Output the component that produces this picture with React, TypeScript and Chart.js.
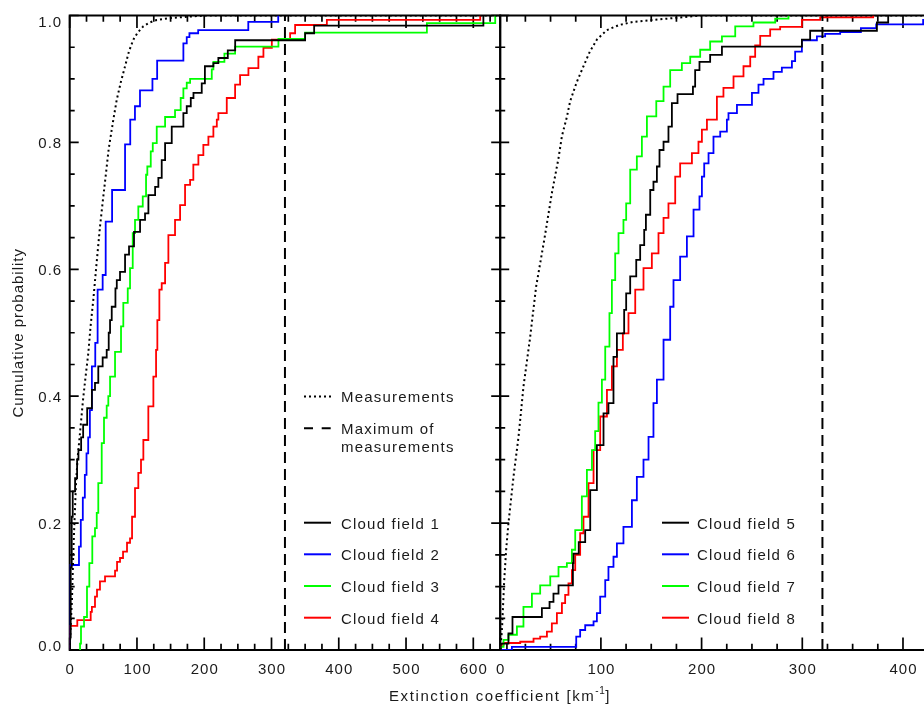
import React, { useEffect, useRef } from 'react';
import { Chart, registerables } from 'chart.js';

Chart.register(...registerables);

type Pt = [number, number];

// ---------------- data ----------------
const leftXRange: [number, number] = [0, 640];
const rightXRange: [number, number] = [0, 430];
const yTickValues = [0, 0.2, 0.4, 0.6, 0.8, 1.0];
const yTickLabels = ['0.0', '0.2', '0.4', '0.6', '0.8', '1.0'];
const leftXTickValues = [0, 100, 200, 300, 400, 500, 600];
const rightXTickValues = [0, 100, 200, 300, 400];
const xMinorStep = 25;
const yMinorStep = 0.05;
const maxOfMeasurements = 320;
const leftLabels = ['Cloud field 1', 'Cloud field 2', 'Cloud field 3', 'Cloud field 4'];
const rightLabels = ['Cloud field 5', 'Cloud field 6', 'Cloud field 7', 'Cloud field 8'];
const seriesColors = ['#000000', '#0000ff', '#00ff00', '#ff0000'];

const measurementsLeft: Pt[] = [
  [0, 0], [1.5, 0.04], [3.4, 0.079], [5, 0.14], [6.4, 0.184], [9.4, 0.263], [12, 0.305], [15.3, 0.342],
  [19.8, 0.394], [23.5, 0.43], [27.7, 0.468], [31, 0.51], [35.1, 0.552], [40, 0.61], [45, 0.667], [50, 0.715],
  [54, 0.752], [58, 0.79], [64.9, 0.836], [69.9, 0.867], [76, 0.895], [82.3, 0.92], [88, 0.943], [94.6, 0.962],
  [101, 0.973], [109.5, 0.983], [119, 0.989], [129.4, 0.993], [150, 0.996], [174, 0.998], [203, 1.0], [640, 1.0],
];

const cloudField1: Pt[] = [
  [0, 0], [0.5, 0.02], [1.5, 0.13], [3, 0.21], [4.5, 0.25], [8, 0.271], [11, 0.3], [13, 0.315], [17, 0.335],
  [20, 0.355], [26, 0.381], [33, 0.41], [37.6, 0.421], [42.5, 0.447], [49, 0.461], [55, 0.473], [58, 0.5],
  [60, 0.52], [62.5, 0.541], [68, 0.57], [70, 0.583], [74.8, 0.596], [82.3, 0.623], [88.2, 0.636], [95.6, 0.659],
  [104.6, 0.678], [112, 0.688], [117, 0.717], [127, 0.73], [131.8, 0.744], [136.8, 0.772], [141.8, 0.799],
  [151.7, 0.825], [169, 0.846], [174, 0.857], [180, 0.87], [184, 0.878], [196.3, 0.893], [201, 0.92],
  [213.6, 0.925], [221, 0.933], [235, 0.945], [246, 0.961], [350, 0.972], [363.4, 0.984], [615, 1.0],
];

const cloudField2: Pt[] = [
  [0, 0], [0.2, 0.134], [13.8, 0.163], [16.5, 0.205], [19.5, 0.24], [22.5, 0.276], [25, 0.31], [27.5, 0.335],
  [30, 0.378], [33, 0.447], [38, 0.484], [41.5, 0.568], [49, 0.591], [53.5, 0.675], [63, 0.725], [82.3, 0.797],
  [90, 0.836], [97, 0.857], [104.5, 0.882], [123, 0.9], [130, 0.929], [169, 0.956], [174, 0.966], [178, 0.972],
  [191, 0.977], [265.5, 0.99], [310, 1.0],
];

const cloudField3: Pt[] = [
  [15.3, 0], [15.4, 0.01], [16.8, 0.037], [21.3, 0.052], [25.7, 0.1], [29.2, 0.137], [33.6, 0.179], [37.6, 0.192],
  [40.2, 0.216], [42.5, 0.263], [47.6, 0.326], [51, 0.366], [55, 0.385], [57.4, 0.4], [60, 0.431], [67.4, 0.47],
  [76.3, 0.51], [79.7, 0.547], [86.3, 0.57], [89.7, 0.602], [93.7, 0.657], [97.1, 0.678], [102, 0.699],
  [108.6, 0.715], [113.5, 0.749], [115.4, 0.762], [120.5, 0.786], [123.5, 0.799], [129.4, 0.825], [141.8, 0.84],
  [156.6, 0.851], [165, 0.87], [169, 0.885], [174, 0.894], [179, 0.9], [211.2, 0.915], [213.6, 0.927],
  [230, 0.94], [245.9, 0.951], [310.3, 0.963], [350, 0.973], [531, 0.988], [632.6, 1.0],
];

const cloudField4: Pt[] = [
  [0, 0], [0.3, 0.038], [11.3, 0.047], [31.2, 0.06], [33, 0.068], [37.6, 0.084], [40.6, 0.095], [45, 0.108],
  [52.5, 0.116], [67.4, 0.125], [70.4, 0.139], [74.8, 0.145], [79.3, 0.155], [85.2, 0.169], [89.7, 0.176],
  [92.7, 0.21], [97.1, 0.255], [102, 0.279], [106, 0.3], [109.5, 0.331], [116.9, 0.384], [124.4, 0.431],
  [128.4, 0.473], [130.3, 0.52], [133.3, 0.568], [136.8, 0.578], [141.8, 0.61], [146.7, 0.654], [156.6, 0.678],
  [164.1, 0.701], [171.5, 0.733], [179, 0.741], [183.8, 0.765], [191.3, 0.78], [198.7, 0.796], [206.2, 0.809],
  [213.6, 0.825], [218.7, 0.836], [221, 0.846], [233.5, 0.87], [245.9, 0.891], [253.3, 0.906], [265.7, 0.917],
  [280.5, 0.935], [288, 0.949], [300.5, 0.962], [327.7, 0.972], [335.1, 0.985], [382.3, 0.993], [610.3, 1.0],
];

const measurementsRight: Pt[] = [
  [0, 0], [1.7, 0.03], [4, 0.11], [6, 0.16], [8.2, 0.2], [13.2, 0.273], [18.2, 0.336], [23.1, 0.415],
  [29.5, 0.49], [35.7, 0.573], [43.7, 0.646], [51.3, 0.72], [57.9, 0.775], [61.3, 0.81], [66.2, 0.84],
  [69.5, 0.865], [76, 0.895], [82.7, 0.92], [89, 0.943], [96, 0.962], [105.9, 0.977], [118, 0.985],
  [132.4, 0.99], [165.5, 0.995], [198.6, 1.0], [430, 1.0],
];

const cloudField5: Pt[] = [
  [0, 0], [0.5, 0.01], [8.2, 0.026], [12.2, 0.052], [41.4, 0.066], [49, 0.076], [52.9, 0.089], [57.9, 0.102],
  [72.2, 0.137], [72.8, 0.152], [78, 0.17], [84.4, 0.189], [89.4, 0.252], [96, 0.323], [102.6, 0.373],
  [107.5, 0.389], [112.5, 0.462], [115.9, 0.499], [123.1, 0.536], [125.1, 0.562], [129.1, 0.589],
  [135.1, 0.615], [139, 0.638], [143, 0.662], [144.7, 0.686], [149, 0.725], [152.2, 0.738], [155.6, 0.762],
  [158.2, 0.788], [162.2, 0.801], [167.1, 0.825], [170.5, 0.862], [176.1, 0.876], [191.4, 0.888],
  [193.6, 0.914], [197.9, 0.927], [208.5, 0.938], [220.2, 0.951], [299.6, 0.962], [307.8, 0.976],
  [374.1, 0.989], [385.3, 1.0],
];

const cloudField6: Pt[] = [
  [0, 0], [11.6, 0.005], [75.5, 0.021], [79.4, 0.0315], [84.4, 0.039], [92.7, 0.045], [96, 0.058], [99.3, 0.084],
  [104.3, 0.11], [107.5, 0.131], [112.5, 0.147], [115.9, 0.168], [122.4, 0.194], [130.8, 0.236], [135.7, 0.273],
  [142.3, 0.3], [147.3, 0.336], [152.2, 0.389], [155.6, 0.426], [162.2, 0.489], [168.8, 0.541], [172.1, 0.583],
  [178.7, 0.62], [185.4, 0.652], [192, 0.694], [197.9, 0.715], [200.3, 0.746], [202.6, 0.767], [206.9, 0.783],
  [211.8, 0.809], [218.5, 0.817], [225.1, 0.836], [226.7, 0.846], [235.1, 0.859], [250, 0.878], [256.5, 0.891],
  [261.5, 0.9], [271.4, 0.911], [279.7, 0.918], [289.7, 0.928], [292.9, 0.943], [299.6, 0.961], [314.5, 0.967],
  [322.7, 0.971], [337.6, 0.974], [358.2, 0.98], [373.4, 0.986], [420, 0.993], [445, 1.0],
];

const cloudField7: Pt[] = [
  [0, 0], [0.5, 0.005], [3.3, 0.016], [8.2, 0.024], [16.6, 0.037], [23.1, 0.068], [31.5, 0.089], [39.7, 0.102],
  [49.7, 0.116], [57.9, 0.131], [66.2, 0.137], [71.2, 0.158], [74.5, 0.189], [81.1, 0.242], [86.1, 0.284],
  [91.1, 0.315], [94.3, 0.345], [97.6, 0.39], [101, 0.426], [104.3, 0.478], [108.5, 0.531], [110.9, 0.583],
  [114.2, 0.625], [117.5, 0.657], [122.4, 0.678], [125.1, 0.704], [129.1, 0.757], [135.7, 0.778],
  [140.7, 0.809], [145.7, 0.841], [155, 0.865], [162.2, 0.888], [168.8, 0.914], [180.4, 0.925], [188.7, 0.935],
  [198.6, 0.946], [208.5, 0.959], [220.2, 0.967], [233.4, 0.983], [251.5, 0.989], [273.1, 0.995], [286.3, 1.0],
];

const cloudField8: Pt[] = [
  [0, 0], [0.5, 0.008], [3.3, 0.011], [19.9, 0.013], [33.1, 0.018], [39.7, 0.021], [46.4, 0.029], [51.3, 0.042],
  [56.3, 0.058], [61.3, 0.074], [64.5, 0.087], [67.8, 0.105], [71.2, 0.126], [74.5, 0.15], [79.4, 0.184],
  [82.7, 0.21], [87.7, 0.263], [92.7, 0.315], [99.3, 0.368], [106, 0.41], [110.9, 0.447], [115.9, 0.473],
  [121.8, 0.499], [127.4, 0.531], [134.1, 0.568], [142.3, 0.602], [150.6, 0.625], [157.2, 0.657], [162.2, 0.681],
  [167.1, 0.704], [173.8, 0.746], [178.7, 0.767], [190.4, 0.783], [196.9, 0.801], [200.3, 0.82], [205.3, 0.836],
  [215.2, 0.872], [221.7, 0.886], [231.7, 0.904], [241.6, 0.92], [248.3, 0.935], [253.2, 0.953], [258.2, 0.968],
  [268.1, 0.978], [278, 0.982], [299.6, 0.993], [317.8, 0.997], [370.4, 1.0],
];

// ---------------- styling / helpers ----------------
const FONT = '"Liberation Sans", Arial, sans-serif';
const TEXT_COLOR = '#1a1a1a';

const toXY = (pts: Pt[]) => pts.map(([x, y]) => ({ x, y }));

type PanelCfg = {
  xRange: [number, number];
  xTicks: number[];
  showY: boolean;
  showTitles: boolean;
  curves: Pt[][];
  measurements: Pt[];
  labels: string[];
  legendLineX: number;
  legendTextX: number;
  showStyleLegend: boolean;
  padding: { left: number; right: number; top: number; bottom: number };
  width: number;
};

function setSpacing(ctx: CanvasRenderingContext2D, px: number) {
  try {
    (ctx as any).letterSpacing = px + 'px';
  } catch (e) {
    /* ignore */
  }
}

function makeDecor(cfg: PanelCfg) {
  return {
    id: 'panelDecor',
    beforeDatasetsDraw(chart: any) {
      const { ctx, chartArea: a, scales } = chart;
      const xs = scales.x;
      const ys = scales.y;
      ctx.save();
      ctx.strokeStyle = '#000';
      ctx.lineWidth = 1.7;
      ctx.beginPath();
      const nx = Math.round((cfg.xRange[1] - cfg.xRange[0]) / xMinorStep);
      for (let i = 0; i <= nx; i++) {
        const v = cfg.xRange[0] + i * xMinorStep;
        const px = xs.getPixelForValue(v);
        const major = i % 4 === 0;
        const len = major ? 12.5 : 6.3;
        ctx.moveTo(px, a.bottom);
        ctx.lineTo(px, a.bottom - len);
        ctx.moveTo(px, a.top);
        ctx.lineTo(px, a.top + len);
      }
      const ny = Math.round(1 / yMinorStep);
      for (let i = 0; i <= ny; i++) {
        const v = i * yMinorStep;
        const py = ys.getPixelForValue(v);
        const major = i % 4 === 0;
        const len = major ? 9 : 5;
        ctx.moveTo(a.left, py);
        ctx.lineTo(a.left + len, py);
        ctx.moveTo(a.right, py);
        ctx.lineTo(a.right - len, py);
      }
      ctx.stroke();
      ctx.lineWidth = 2;
      ctx.strokeRect(a.left, a.top, a.right - a.left, a.bottom - a.top);
      ctx.restore();
    },
    afterDraw(chart: any) {
      const { ctx, chartArea: a, scales } = chart;
      const xs = scales.x;
      const ys = scales.y;
      ctx.save();
      ctx.fillStyle = TEXT_COLOR;
      ctx.font = `15px ${FONT}`;
      setSpacing(ctx, 1);
      ctx.textBaseline = 'alphabetic';
      // x tick labels
      ctx.textAlign = 'center';
      cfg.xTicks.forEach((v) => {
        const px = xs.getPixelForValue(v);
        ctx.fillText(String(v), px + 0.5, 674);
      });
      // y tick labels
      if (cfg.showY) {
        ctx.textAlign = 'right';
        yTickValues.forEach((v, i) => {
          const py = ys.getPixelForValue(v);
          const base = Math.min(Math.max(py + 5.6, a.top + 11.8), a.bottom + 0.7);
          ctx.fillText(yTickLabels[i], a.left - 7.5, base);
        });
      }
      // legend
      ctx.textAlign = 'left';
      setSpacing(ctx, 1.2);
      const drawSample = (y: number, color: string, dash: number[]) => {
        ctx.save();
        ctx.strokeStyle = color;
        ctx.lineWidth = 2;
        ctx.setLineDash(dash);
        ctx.beginPath();
        ctx.moveTo(cfg.legendLineX, y);
        ctx.lineTo(cfg.legendLineX + 27, y);
        ctx.stroke();
        ctx.restore();
      };
      if (cfg.showStyleLegend) {
        drawSample(396.5, '#000', [2, 3]);
        ctx.fillText('Measurements', cfg.legendTextX, 402);
        drawSample(428.3, '#000', [9, 8.7]);
        ctx.fillText('Maximum of', cfg.legendTextX, 434);
        ctx.fillText('measurements', cfg.legendTextX, 452);
      }
      const ly = [522.7, 554.3, 586, 617.7];
      cfg.labels.forEach((lab, i) => {
        drawSample(ly[i], seriesColors[i], []);
        ctx.fillText(lab, cfg.legendTextX, ly[i] + 6);
      });
      // titles
      if (cfg.showTitles) {
        const main = 'Extinction coefficient [km';
        const sup = '-1';
        const end = ']';
        ctx.font = `15px ${FONT}`;
        setSpacing(ctx, 1.6);
        const w1 = ctx.measureText(main).width;
        const w3 = ctx.measureText(end).width;
        ctx.font = `10px ${FONT}`;
        setSpacing(ctx, 0.5);
        const w2 = ctx.measureText(sup).width;
        const total = w1 + w2 + w3;
        let x0 = 500 - total / 2;
        ctx.textAlign = 'left';
        ctx.font = `15px ${FONT}`;
        setSpacing(ctx, 1.6);
        ctx.fillText(main, x0, 701);
        x0 += w1;
        ctx.font = `10px ${FONT}`;
        setSpacing(ctx, 0.5);
        ctx.fillText(sup, x0, 694);
        x0 += w2;
        ctx.font = `15px ${FONT}`;
        setSpacing(ctx, 1.6);
        ctx.fillText(end, x0, 701);
        ctx.save();
        ctx.translate(23, (a.top + a.bottom) / 2);
        ctx.rotate(-Math.PI / 2);
        ctx.textAlign = 'center';
        setSpacing(ctx, 1);
        ctx.fillText('Cumulative probability', 0, 0);
        ctx.restore();
      }
      ctx.restore();
    },
  };
}

function buildChart(canvas: HTMLCanvasElement, cfg: PanelCfg) {
  const datasets: any[] = [];
  datasets.push({
    data: toXY(cfg.measurements),
    borderColor: '#000',
    borderWidth: 2,
    borderDash: [2, 3],
    pointRadius: 0,
    fill: false,
    tension: 0,
  });
  datasets.push({
    data: toXY([
      [maxOfMeasurements, 0],
      [maxOfMeasurements, 1],
    ]),
    borderColor: '#000',
    borderWidth: 2,
    borderDash: [11, 6],
    pointRadius: 0,
    fill: false,
  });
  cfg.curves.forEach((c, i) => {
    datasets.push({
      data: toXY(c),
      borderColor: seriesColors[i],
      borderWidth: 1.8,
      stepped: 'before',
      pointRadius: 0,
      fill: false,
    });
  });
  return new Chart(canvas, {
    type: 'line',
    data: { datasets },
    options: {
      animation: false,
      responsive: false,
      maintainAspectRatio: false,
      events: [],
      layout: { padding: cfg.padding },
      plugins: { legend: { display: false }, tooltip: { enabled: false } },
      scales: {
        x: { type: 'linear', min: cfg.xRange[0], max: cfg.xRange[1], display: false },
        y: { type: 'linear', min: 0, max: 1, display: false },
      },
    },
    plugins: [makeDecor(cfg)],
  } as any);
}

const H = 709;
const LEFT_W = 924;
const RIGHT_W = 1010;

export default function App() {
  const leftRef = useRef<HTMLCanvasElement | null>(null);
  const rightRef = useRef<HTMLCanvasElement | null>(null);

  useEffect(() => {
    if (!leftRef.current || !rightRef.current) return;
    const left = buildChart(leftRef.current, {
      xRange: leftXRange,
      xTicks: leftXTickValues,
      showY: true,
      showTitles: true,
      curves: [cloudField1, cloudField2, cloudField3, cloudField4],
      measurements: measurementsLeft,
      labels: leftLabels,
      legendLineX: 304,
      legendTextX: 341,
      showStyleLegend: true,
      padding: { left: 69.7, right: LEFT_W - 500.2, top: 15.5, bottom: H - 650 },
      width: LEFT_W,
    });
    const right = buildChart(rightRef.current, {
      xRange: rightXRange,
      xTicks: rightXTickValues,
      showY: false,
      showTitles: false,
      curves: [cloudField5, cloudField6, cloudField7, cloudField8],
      measurements: measurementsRight,
      labels: rightLabels,
      legendLineX: 662,
      legendTextX: 697,
      showStyleLegend: false,
      padding: { left: 500.2, right: RIGHT_W - (500.2 + 433), top: 15.5, bottom: H - 650 },
      width: RIGHT_W,
    });
    return () => {
      left.destroy();
      right.destroy();
    };
  }, []);

  return (
    <div
      style={{
        position: 'fixed',
        left: 0,
        top: 0,
        width: 924,
        height: H,
        overflow: 'hidden',
        background: '#fff',
      }}
    >
      <canvas
        ref={leftRef}
        width={LEFT_W}
        height={H}
        style={{ position: 'absolute', left: 0, top: 0, width: LEFT_W, height: H }}
      />
      <canvas
        ref={rightRef}
        width={RIGHT_W}
        height={H}
        style={{ position: 'absolute', left: 0, top: 0, width: RIGHT_W, height: H }}
      />
    </div>
  );
}
